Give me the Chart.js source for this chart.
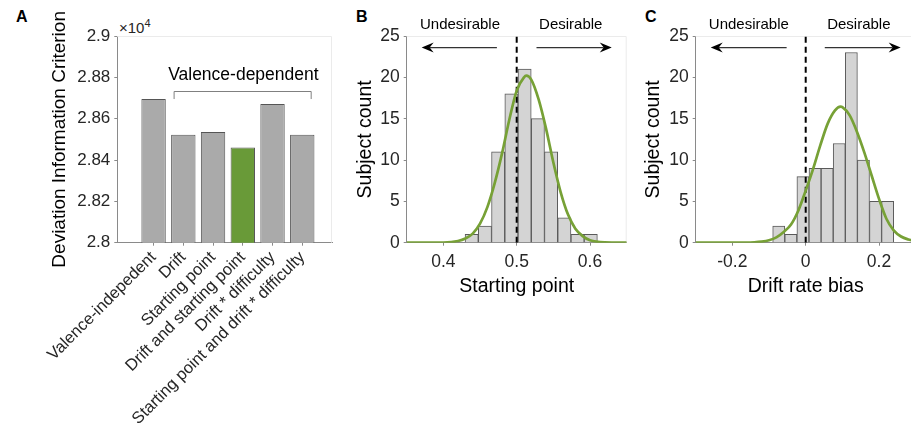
<!DOCTYPE html>
<html>
<head>
<title>DIC model comparison and bias histograms</title>
<script src="https://cdn.jsdelivr.net/npm/chart.js@4"></script>
<style>
    body {margin: 0; width: 911px; height: 442px; overflow: hidden; position: relative; background: #fff;
          font-family: "Liberation Sans", Arial, sans-serif; color: #000;}
    canvas {position: absolute; top: 0;}
    .letter {position: absolute; font: bold 16px "Liberation Sans", Arial, sans-serif;}
    #expo {position: absolute; left: 119px; top: 17px; font-size: 15px; color: #262626;}
    #expo sup {font-size: 11px; vertical-align: 6px;}
</style>
</head>
<body>
<div class="letter" style="left:16px; top:8px">A</div>
<div class="letter" style="left:356px; top:8px">B</div>
<div class="letter" style="left:645px; top:8px">C</div>
<div id="expo">&times;10<sup>4</sup></div>
<canvas id="chartA" width="340" height="442" style="left:0px"></canvas>
<canvas id="chartB" width="300" height="300" style="left:340px"></canvas>
<canvas id="chartC" width="290" height="300" style="left:630px"></canvas>

<script>
// panel A: deviance information criterion per model
var modelNames = ['Valence-indepedent', 'Drift', 'Starting point', 'Drift and starting point',
                  'Drift * difficulty', 'Starting point and drift * difficulty'];
var modelPos = [1, 2, 3, 4, 5, 6];
var dicValues = [28695, 28522, 28535, 28460, 28671, 28522];
var bestModel = 3;
var dicTicks = [28000, 28200, 28400, 28600, 28800, 29000];
var dicTickLabels = ['2.8', '2.82', '2.84', '2.86', '2.88', '2.9'];

// panel B: starting point histogram + normal fit
var spBinCenters = [0.4386, 0.4567, 0.4747, 0.4928, 0.5108, 0.5289, 0.5469, 0.5650, 0.5830, 0.6010];
var spCounts = [1, 2, 11, 18, 21, 15, 11, 3, 1, 1];
var spFitX = [0.35, 0.40, 0.42, 0.43, 0.44, 0.45, 0.46, 0.47, 0.48, 0.49, 0.50, 0.51, 0.513,
              0.52, 0.53, 0.54, 0.55, 0.56, 0.57, 0.58, 0.59, 0.60, 0.62, 0.65];
var spFitY = [0, 0.02, 0.2, 0.5, 1.1, 2.3, 4.3, 7.2, 10.8, 14.9, 18.4, 20.0, 20.2,
              19.7, 17.3, 13.8, 9.7, 6.1, 3.4, 1.7, 0.8, 0.3, 0.04, 0];
var spTicks = [0.4, 0.5, 0.6];
var spTickLabels = ['0.4', '0.5', '0.6'];
var spNeutral = 0.5;

// panel C: drift rate bias histogram + normal fit
var drBinCenters = [-0.0735, -0.0405, -0.0075, 0.0255, 0.0585, 0.0915, 0.1245, 0.1575, 0.1905, 0.2235];
var drCounts = [2, 1, 8, 9, 9, 12, 23, 10, 5, 5];
var drFitX = [-0.30, -0.20, -0.14, -0.12, -0.10, -0.08, -0.06, -0.04, -0.02, 0.00, 0.02, 0.04,
              0.06, 0.08, 0.095, 0.10, 0.12, 0.14, 0.16, 0.18, 0.20, 0.22, 0.24, 0.26, 0.28, 0.30];
var drFitY = [0, 0, 0.05, 0.13, 0.3, 0.65, 1.3, 2.2, 3.9, 6.3, 8.9, 11.8,
              14.4, 16.0, 16.45, 16.4, 15.4, 13.4, 10.9, 8.1, 5.3, 2.9, 1.5, 0.75, 0.38, 0.18];
var drTicks = [-0.2, 0, 0.2];
var drTickLabels = ['-0.2', '0', '0.2'];
var drNeutral = 0;

var countTicks = [0, 5, 10, 15, 20, 25];
var countTickLabels = ['0', '5', '10', '15', '20', '25'];

var FONT = '"Liberation Sans", Arial, sans-serif';
var axisGray = '#8a8a8a';
var fitGreen = '#77a136';

function fixTicks(values) {
    return function(scale) { scale.ticks = values.map(function(v) { return {value: v}; }); };
}
function fixSize(size) {
    return function(scale) {
        if (scale.isHorizontal()) scale.height = size; else scale.width = size;
    };
}
function pairs(xs, ys) {
    return xs.map(function(x, i) { return {x: x, y: ys[i]}; });
}

// faint box on the top and right side of the plot area
var framePlugin = {
    id: 'frame',
    beforeDatasetsDraw: function(chart) {
        var a = chart.chartArea, ctx = chart.ctx;
        ctx.save();
        ctx.strokeStyle = '#ebebeb';
        ctx.lineWidth = 1;
        ctx.beginPath();
        ctx.moveTo(a.left, a.top + 0.5);
        ctx.lineTo(a.right - 0.5, a.top + 0.5);
        ctx.lineTo(a.right - 0.5, a.bottom);
        ctx.stroke();
        ctx.restore();
    }
};

function arrow(ctx, x0, y0, x1, y1) {
    var ang = Math.atan2(y1 - y0, x1 - x0);
    var len = 12, half = 5, notch = 8;
    ctx.strokeStyle = '#333';
    ctx.lineWidth = 1.2;
    ctx.beginPath();
    ctx.moveTo(x0, y0);
    ctx.lineTo(x1 - Math.cos(ang) * notch, y1 - Math.sin(ang) * notch);
    ctx.stroke();
    ctx.save();
    ctx.translate(x1, y1);
    ctx.rotate(ang);
    ctx.fillStyle = '#000';
    ctx.beginPath();
    ctx.moveTo(0, 0);
    ctx.lineTo(-len, -half);
    ctx.lineTo(-notch, 0);
    ctx.lineTo(-len, half);
    ctx.closePath();
    ctx.fill();
    ctx.restore();
}

// "Undesirable <-  | ->  Desirable" labels, placed in data units
function desirePlugin(c, inner, outer, textAt) {
    return {
        id: 'desire',
        afterDatasetsDraw: function(chart) {
            var x = chart.scales.x, y = chart.scales.y, ctx = chart.ctx;
            var ay = y.getPixelForValue(23.6), ty = y.getPixelForValue(26.3);
            ctx.save();
            arrow(ctx, x.getPixelForValue(c - inner), ay, x.getPixelForValue(c - outer), ay);
            arrow(ctx, x.getPixelForValue(c + inner), ay, x.getPixelForValue(c + outer), ay);
            ctx.fillStyle = '#000';
            ctx.font = '15px ' + FONT;
            ctx.textAlign = 'center';
            ctx.textBaseline = 'middle';
            ctx.fillText('Undesirable', x.getPixelForValue(c - textAt[0]), ty);
            ctx.fillText('Desirable', x.getPixelForValue(c + textAt[1]), ty);
            ctx.restore();
        }
    };
}

// bracket over the valence-dependent models
var bracketPlugin = {
    id: 'bracket',
    afterDatasetsDraw: function(chart) {
        var x = chart.scales.x, y = chart.scales.y, ctx = chart.ctx;
        var x0 = x.getPixelForValue(1.69), x1 = x.getPixelForValue(6.3);
        var yt = Math.round(y.getPixelForValue(28735)) + 0.5, yb = y.getPixelForValue(28695);
        ctx.save();
        ctx.strokeStyle = '#808080';
        ctx.lineWidth = 1;
        ctx.beginPath();
        ctx.moveTo(x0, yb); ctx.lineTo(x0, yt); ctx.lineTo(x1, yt); ctx.lineTo(x1, yb);
        ctx.stroke();
        ctx.fillStyle = '#000';
        ctx.font = '17.5px ' + FONT;
        ctx.textAlign = 'center';
        ctx.textBaseline = 'middle';
        ctx.fillText('Valence-dependent', x.getPixelForValue(4.02), y.getPixelForValue(28812));
        ctx.restore();
    }
};

Chart.defaults.font.family = FONT;
Chart.defaults.color = '#262626';
Chart.defaults.animation = false;
Chart.defaults.plugins.legend.display = false;
Chart.defaults.plugins.tooltip.enabled = false;

function commonGrid() {
    return {display: true, drawOnChartArea: false, drawTicks: true, tickLength: 3,
            color: axisGray, offset: false};
}

// ---------- panel A ----------
new Chart(document.getElementById('chartA'), {
    type: 'bar',
    data: {
        datasets: [{
            data: pairs(modelPos, dicValues),
            backgroundColor: dicValues.map(function(v, i) { return i === bestModel ? '#699a38' : '#aaaaaa'; }),
            borderColor: '#555',
            borderWidth: 1,
            barPercentage: 0.82,
            categoryPercentage: 1
        }]
    },
    options: {
        responsive: false,
        devicePixelRatio: 1,
        layout: {padding: {top: 36, right: 8, left: 0, bottom: 0}},
        scales: {
            x: {
                type: 'linear', min: -0.22, max: 7, offset: false,
                afterBuildTicks: fixTicks(modelPos),
                afterFit: fixSize(199.3),
                grid: commonGrid(),
                border: {display: true, color: axisGray},
                ticks: {
                    autoSkip: false, minRotation: 45, maxRotation: 45, padding: 2,
                    font: {size: 16.5}, color: '#262626',
                    callback: function(v, i) { return modelNames[i]; }
                }
            },
            y: {
                min: 28000, max: 29000,
                afterBuildTicks: fixTicks(dicTicks),
                afterFit: fixSize(117.3),
                grid: commonGrid(),
                border: {display: true, color: axisGray},
                ticks: {font: {size: 17}, padding: 4, callback: function(v, i) { return dicTickLabels[i]; }},
                title: {display: true, text: 'Deviation Information Criterion', font: {size: 19},
                        color: '#000', padding: {top: 48}}
            }
        }
    },
    plugins: [framePlugin, bracketPlugin]
});

// ---------- histogram panels ----------
function histChart(id, centers, counts, fitX, fitY, neutral, xMin, xMax, xTicks, xLabels,
                   xTitle, yAxisWidth, padRight, titlePad, arrows) {
    return new Chart(document.getElementById(id), {
        type: 'bar',
        data: {
            datasets: [{
                type: 'line',
                data: pairs(fitX, fitY),
                borderColor: fitGreen,
                borderWidth: 2.7,
                pointRadius: 0,
                cubicInterpolationMode: 'monotone',
                order: 1
            }, {
                type: 'line',
                data: [{x: neutral, y: 0}, {x: neutral, y: 25}],
                borderColor: '#000',
                borderWidth: 2,
                borderDash: [6, 4],
                pointRadius: 0,
                order: 2
            }, {
                type: 'bar',
                data: pairs(centers, counts),
                backgroundColor: '#d4d4d4',
                borderColor: '#5a5a5a',
                borderWidth: 1,
                barPercentage: 1,
                categoryPercentage: 1,
                order: 3
            }]
        },
        options: {
            responsive: false,
            devicePixelRatio: 1,
            layout: {padding: {top: 36, right: padRight, left: 0, bottom: 0}},
            scales: {
                x: {
                    type: 'linear', min: xMin, max: xMax, offset: false,
                    afterBuildTicks: fixTicks(xTicks),
                    afterFit: fixSize(57.3),
                    grid: commonGrid(),
                    border: {display: true, color: axisGray},
                    ticks: {font: {size: 17.5}, padding: 6, callback: function(v, i) { return xLabels[i]; }},
                    title: {display: true, text: xTitle, font: {size: 19.5}, color: '#000',
                            padding: {top: 0, bottom: 2}}
                },
                y: {
                    min: 0, max: 25,
                    afterBuildTicks: fixTicks(countTicks),
                    afterFit: fixSize(yAxisWidth),
                    grid: commonGrid(),
                    border: {display: true, color: axisGray},
                    ticks: {font: {size: 17.5}, padding: 4, callback: function(v, i) { return countTickLabels[i]; }},
                    title: {display: true, text: 'Subject count', font: {size: 19.5}, color: '#000',
                            padding: {top: titlePad}}
                }
            }
        },
        plugins: [framePlugin, arrows]
    });
}

histChart('chartB', spBinCenters, spCounts, spFitX, spFitY, spNeutral, 0.35, 0.65,
          spTicks, spTickLabels, 'Starting point', 66.7, 13.3, 13.5,
          desirePlugin(spNeutral, 0.027, 0.1296, [0.0773, 0.0737]));

histChart('chartC', drBinCenters, drCounts, drFitX, drFitY, drNeutral, -0.3, 0.3,
          drTicks, drTickLabels, 'Drift rate bias', 65.7, 4.3, 11.5,
          desirePlugin(drNeutral, 0.052, 0.259, [0.155, 0.145]));
</script>
</body>
</html>
